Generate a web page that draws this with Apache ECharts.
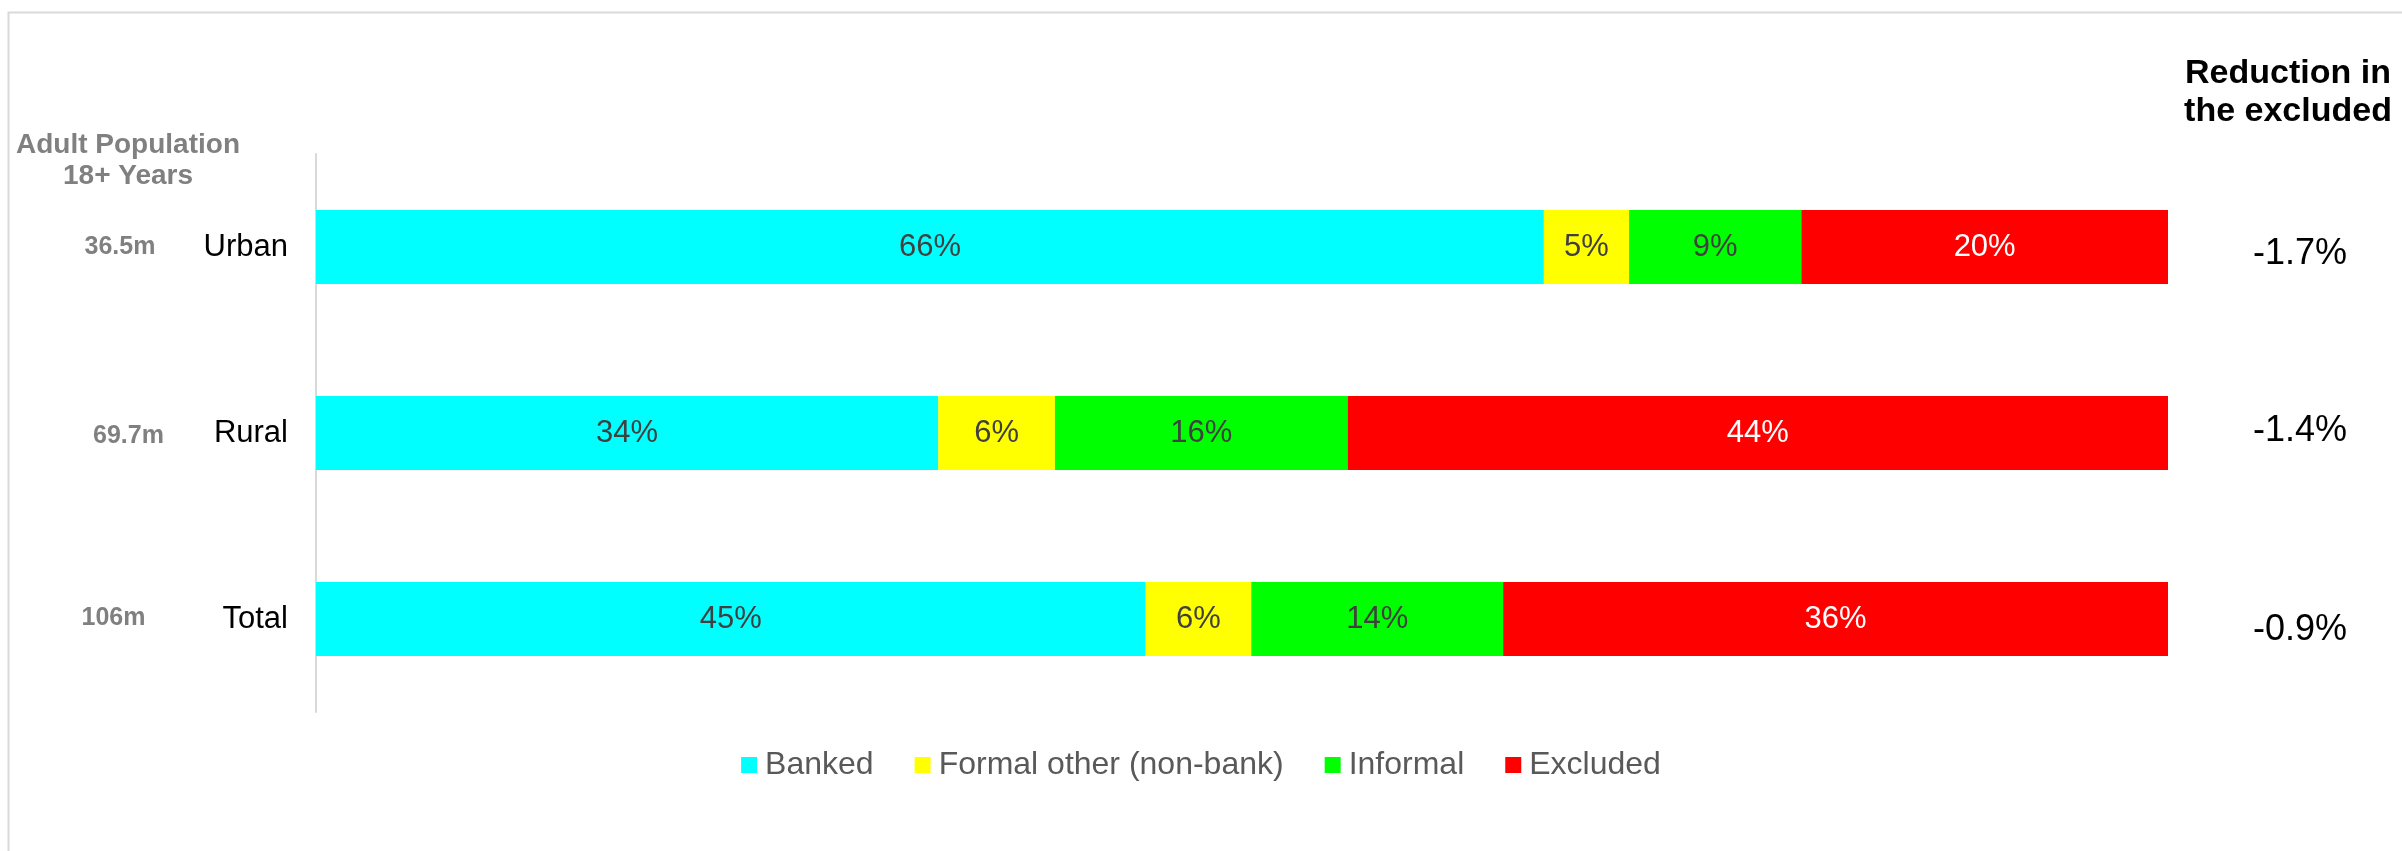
<!DOCTYPE html>
<html><head><meta charset="utf-8">
<script src="https://cdn.jsdelivr.net/npm/echarts@6/dist/echarts.min.js"></script>
<style>html,body{margin:0;padding:0;background:#fff}#c{width:2402px;height:851px}</style>
</head><body><div id="c"></div>
<script>
const categories = ['Urban', 'Rural', 'Total'];
const population = ['36.5m', '69.7m', '106m'];
const banked = [66.3, 33.6, 44.8];
const formalOther = [4.6, 6.3, 5.7];
const informal = [9.3, 15.8, 13.6];
const excluded = [19.8, 44.3, 35.9];
const reduction = ['-1.7%', '-1.4%', '-0.9%'];
const seriesNames = ['Banked', 'Formal other (non-bank)', 'Informal', 'Excluded'];
const seriesColors = ['#00FFFF', '#FFFF00', '#00FF00', '#FF0000'];
const labelColors = ['#404040', '#404040', '#404040', '#FFFFFF'];
const FONT = '"Liberation Sans", Arial, sans-serif';

const chart = echarts.init(document.getElementById('c'), null, {renderer: 'canvas'});
const values = [banked, formalOther, informal, excluded];

const series = seriesNames.map((name, i) => ({
  name: name,
  type: 'bar',
  stack: 'all',
  yAxisIndex: 0,
  barWidth: 74,
  itemStyle: {color: seriesColors[i]},
  label: {
    show: true,
    position: 'inside',
    formatter: p => Math.round(p.value) + '%',
    color: labelColors[i],
    fontSize: 31,
    fontFamily: FONT
  },
  emphasis: {disabled: true},
  data: values[i]
}));

const popBase = {color: '#808080', fontWeight: 'bold', fontSize: 25, fontFamily: FONT};
const popRich = {
  p0: Object.assign({}, popBase),
  p1: Object.assign({}, popBase, {padding: [6, 0, 0, 17]}),
  p2: Object.assign({}, popBase, {padding: [0, 13, 2, 0]})
};
const redBase = {color: '#000000', fontSize: 36, fontFamily: FONT};
const redRich = {
  r0: Object.assign({}, redBase, {padding: [14, 0, 0, 0]}),
  r1: Object.assign({}, redBase, {padding: [0, 0, 4, 0]}),
  r2: Object.assign({}, redBase, {padding: [22, 0, 0, 0]})
};

chart.setOption({
  animation: false,
  backgroundColor: '#ffffff',
  textStyle: {fontFamily: FONT},
  title: [
    {
      text: 'Adult Population\n18+ Years',
      left: 128, top: 130, textAlign: 'center', padding: 0,
      textStyle: {color: '#808080', fontWeight: 'bold', fontSize: 28, lineHeight: 31, fontFamily: FONT}
    },
    {
      text: 'Reduction in\nthe excluded',
      left: 2288, top: 55, textAlign: 'center', padding: 0,
      textStyle: {color: '#000000', fontWeight: 'bold', fontSize: 34, lineHeight: 38, fontFamily: FONT}
    }
  ],
  graphic: [{
    type: 'rect', left: 6, top: 10, silent: true,
    shape: {width: 2500, height: 1000},
    style: {fill: 'none', stroke: '#d9d9d9', lineWidth: 2}
  }],
  legend: {
    data: seriesNames,
    bottom: 65,
    left: 'center',
    icon: 'rect',
    itemWidth: 16,
    itemHeight: 16,
    itemGap: 41,
    textStyle: {color: '#595959', fontSize: 32, fontFamily: FONT, padding: [0, 0, 0, 3]}
  },
  grid: {left: 316, right: 234, top: 154, bottom: 139, containLabel: false},
  xAxis: {type: 'value', min: 0, max: 100, show: false},
  yAxis: [
    {
      type: 'category', inverse: true, data: categories,
      axisLine: {show: true, lineStyle: {color: '#d9d9d9', width: 2}},
      axisTick: {show: false},
      axisLabel: {color: '#000000', fontSize: 31, margin: 28, fontFamily: FONT}
    },
    {
      type: 'category', inverse: true, data: categories, position: 'left',
      axisLine: {show: false}, axisTick: {show: false},
      axisLabel: {
        margin: 196, align: 'center',
        formatter: (v, i) => '{p' + i + '|' + population[i] + '}',
        rich: popRich
      }
    },
    {
      type: 'category', inverse: true, data: categories, position: 'right',
      axisLine: {show: false}, axisTick: {show: false},
      axisLabel: {
        margin: 132, align: 'center',
        formatter: (v, i) => '{r' + i + '|' + reduction[i] + '}',
        rich: redRich
      }
    }
  ],
  series: series
});
</script>
</body></html>
